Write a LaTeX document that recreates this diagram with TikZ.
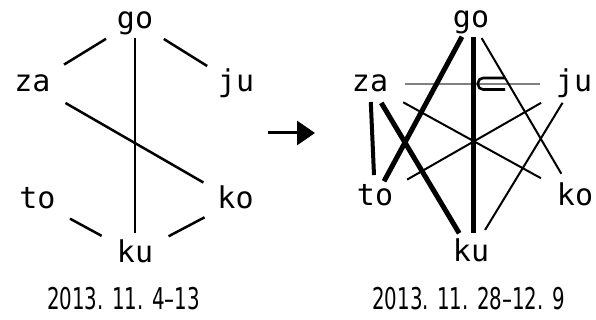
\documentclass[tikz,border=0pt]{standalone}
\usepackage{fontspec}
\usetikzlibrary{arrows.meta}
\newfontfamily\labfont{DejaVu Sans Mono}
\newfontfamily\datefont{DejaVu Sans}
\tikzset{
  lbl/.style={inner sep=0pt, text height=16pt, text depth=0pt, font=\labfont\fontsize{30}{30}\selectfont},
  datef/.style={inner sep=0pt, anchor=base, font=\datefont\fontsize{30}{30}\selectfont},
  ledge/.style={line width=2.5pt},
  thinedge/.style={line width=2pt},
  thickedge/.style={line width=5pt},
  midedge/.style={line width=4pt},
  grayedge/.style={line width=1.4pt, black!50},
  sh/.style 2 args={shorten <=#1pt, shorten >=#2pt}
}
\begin{document}
\begin{tikzpicture}[x=1pt,y=-1pt]
\useasboundingbox[fill=white] (0,0) rectangle (596,320);
% left graph
\node[lbl] (go1) at (135,21) {go};
\node[lbl] (za1) at (32.5,84) {za};
\node[lbl] (ju1) at (236,84) {ju};
\node[lbl] (to1) at (37.5,201) {to};
\node[lbl] (ko1) at (235.5,201) {ko};
\node[lbl] (ku1) at (135,254) {ku};
\draw[ledge, sh={34}{37}] (go1.center) -- (za1.center);
\draw[ledge, sh={34}{34}] (go1.center) -- (ju1.center);
\draw[ledge, sh={17}{21}] (go1.center) -- (ku1.center);
\draw[ledge, sh={38}{37}] (za1.center) -- (ko1.center);
\draw[ledge, sh={37}{38}] (to1.center) -- (ku1.center);
\draw[ledge, sh={35}{38}] (ko1.center) -- (ku1.center);
\node[datef] (d1) at (123.5,309) {\scalebox{0.66}[1]{2013. 11. 4–13}};
% arrow
\coordinate (a1) at (268,133);
\coordinate (a2) at (315,133);
\draw[line width=3pt, -{Triangle[length=18pt,width=24pt]}] (a1) -- (a2);
% right graph
\node[lbl] (go2) at (471,20) {go};
\node[lbl] (za2) at (370,84) {za};
\node[lbl] (ju2) at (574,84) {ju};
\node[lbl] (to2) at (375,198) {to};
\node[lbl] (ko2) at (575,197) {ko};
\node[lbl] (ku2) at (471,253) {ku};
\draw[grayedge, sh={35}{34}] (za2.center) -- (ju2.center);
\draw[line width=2.6pt, rounded corners=5pt] (505,78) -- (478,78) -- (478,89.5) -- (505,89.5);
\draw[thickedge, sh={19}{19}] (go2.center) -- (to2.center);
\draw[thickedge, sh={17}{20}] ([xshift=2pt]go2.center) -- ([xshift=2pt]ku2.center);
\draw[thinedge, sh={21}{27}] (go2.center) -- (ko2.center);
\draw[midedge, sh={18}{23}] (za2.center) -- (to2.center);
\draw[thickedge, sh={22}{23}] (za2.center) -- (ku2.center);
\draw[thinedge, sh={38}{39}] (za2.center) -- (ko2.center);
\draw[thinedge, sh={38}{37}] (ju2.center) -- (to2.center);
\draw[thinedge, sh={22}{27}] (ju2.center) -- (ku2.center);
\node[datef] (d2) at (468.5,309) {\scalebox{0.66}[1]{2013. 11. 28–12. 9}};
\end{tikzpicture}
\end{document}
